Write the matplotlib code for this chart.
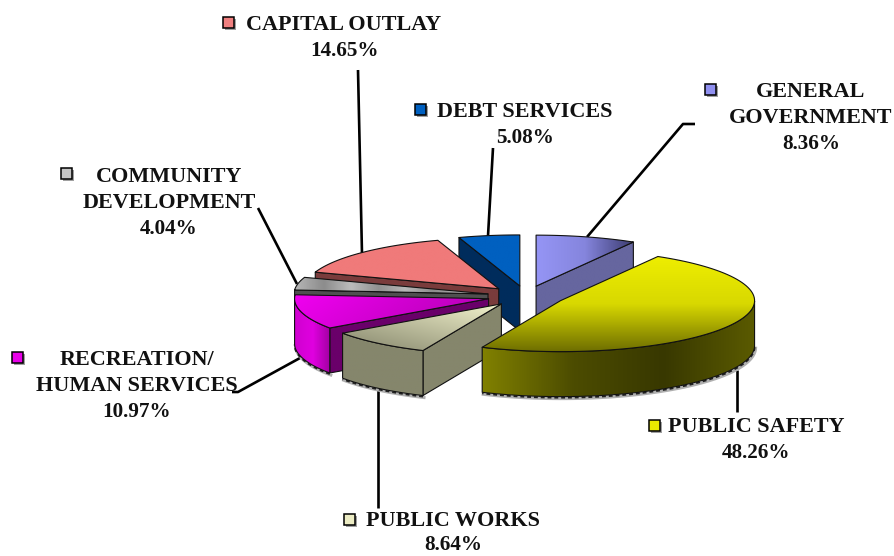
import numpy as np
import matplotlib
matplotlib.use("Agg")
import matplotlib.pyplot as plt
from matplotlib.patches import Polygon, Rectangle
from matplotlib.colors import LinearSegmentedColormap

# data, clockwise from 12 o'clock
categories = ["GENERAL\nGOVERNMENT", "PUBLIC SAFETY", "PUBLIC WORKS", "RECREATION/\nHUMAN SERVICES",
              "COMMUNITY\nDEVELOPMENT", "CAPITAL OUTLAY", "DEBT SERVICES"]
percents = [8.36, 48.26, 8.64, 10.97, 4.04, 14.65, 5.08]

key_colors = ["#9090f0", "#e8e800", "#ececc4", "#e800e8", "#c4c4c4", "#f08080", "#0060c0"]
# top gradient: colours, direction in degrees (0 = left to right, 90 = top to bottom)
top_styles = [(["#9595f5", "#8585dd", "#3c3c70"], 0),
              (["#eeee00", "#d8d800", "#6e6e00"], 90),
              (["#85866c", "#f2f2cc"], -50),
              (["#f000f0", "#b000b0"], 15),
              (["#b4b4b4", "#8c8c8c", "#bcbcbc", "#909090", "#b8b8b8", "#8c8c8c", "#b0b0b0", "#8c8c8c"], 0),
              (["#f07a7a", "#f07a7a"], 0),
              (["#0060c0", "#0060c0"], 0)]
side_colors = [["#66669f"], ["#808000", "#4c4c00", "#383800", "#5a5a00"], ["#85866c"],
               ["#d000d0", "#e000e0", "#a000a0"], ["#707070"], ["#7a3c3c"], ["#002c5c"]]
cut_colors = ["#66669f", "#565600", "#85866c", "#6a006a", "#505050", "#7a3c3c", "#002c5c"]
draw_order = [6, 0, 5, 4, 3, 2, 1]

# layout in pixels
W, H = 894, 556
CX, CY = 526, 296
RX, RY = 194, 51
DEPTH = 45
EXPLODE = 0.2

# label text position per category (x centre, y of first line, line gap), key position
label_x = [811, 756, 453, 137, 169, 344, 525]
label_y = [92, 427, 521, 360, 177, 25, 112]
label_gap = [26, 26, 24, 26, 26, 26, 26]
key_xy = [(711, 90), (655, 426), (350, 520), (18, 358), (67, 174), (229, 23), (421, 110)]
leaders = [[(695, 124), (683, 124), (587, 237)],
           [(737, 370), (737, 412)],
           [(378, 390), (378, 508)],
           [(232, 392), (238, 392), (300, 358)],
           [(258, 208), (297, 284)],
           [(358, 70), (362, 254)],
           [(493, 148), (488, 236)]]

plt.rcParams["font.family"] = ["Liberation Serif", "DejaVu Serif"]
fig = plt.figure(figsize=(W / 100, H / 100), dpi=100)
ax = fig.add_axes([0, 0, 1, 1])
ax.axis("off")

z = [1]


def gradient_fill(pts, colors, angle=0):
    pts = np.asarray(pts)
    x0, y0 = pts.min(axis=0)
    x1, y1 = pts.max(axis=0)
    if len(colors) == 1:
        colors = [colors[0], colors[0]]
    cmap = LinearSegmentedColormap.from_list("g", colors)
    gx, gy = np.meshgrid(np.linspace(0, 1, 80), np.linspace(0, 1, 80))
    a = np.radians(angle)
    u = gx * np.cos(a) + gy * np.sin(a)
    u = (u - u.min()) / (u.max() - u.min())
    im = ax.imshow(u, cmap=cmap, extent=[x0, x1, y1, y0], aspect="auto", zorder=z[0], interpolation="bilinear")
    patch = Polygon(pts, closed=True, transform=ax.transData)
    im.set_clip_path(patch)
    ax.add_patch(Polygon(pts, closed=True, fill=False, ec="#111111", lw=0.8, zorder=z[0] + 0.5, joinstyle="round"))
    z[0] += 1


def arc(ox, oy, t):
    r = np.radians(t)
    return np.column_stack([ox + RX * np.cos(r), oy - RY * np.sin(r)])


def faces_viewer(apex, edge, mid_pt):
    # a cut face shows when the slice top lies above its edge on screen
    d = edge - apex
    if abs(d[0]) < 1:
        return False
    m = mid_pt - apex
    return m[1] < d[1] / d[0] * m[0]


start = 90.0
slices = []
for p in percents:
    sweep = 360 * p / 100
    slices.append((start, start - sweep))
    start -= sweep

for i in draw_order:
    t0, t1 = slices[i]
    mid = np.radians((t0 + t1) / 2)
    ox = CX + EXPLODE * RX * np.cos(mid)
    oy = CY - EXPLODE * RY * np.sin(mid)
    t = np.linspace(t0, t1, 90)
    rim = arc(ox, oy, t)
    apex = np.array([ox, oy])
    drop = np.array([0, DEPTH])

    # cut faces
    for edge in (rim[0], rim[-1]):
        if faces_viewer(apex, edge, rim[45]):
            face = [apex, edge, edge + drop, apex + drop]
            gradient_fill(face, [cut_colors[i]])

    # outer wall, only the part facing us
    front = np.sin(np.radians(t)) <= 0
    if front.sum() > 1:
        f = rim[front]
        wall = np.vstack([f, (f + drop)[::-1]])
        # soft shadow and rough lower edge
        ax.plot(f[:, 0] + 1, f[:, 1] + DEPTH + 2, color="#b0b0b0", lw=2.2, zorder=z[0])
        ax.plot(f[:, 0], f[:, 1] + DEPTH + 1, color="#222222", lw=1.4, ls=(0, (2, 1.5)), zorder=z[0])
        z[0] += 1
        gradient_fill(wall, side_colors[i])

    # top
    top = np.vstack([apex, rim])
    gradient_fill(top, top_styles[i][0], top_styles[i][1])

# leader lines
for pts in leaders:
    xs, ys = zip(*pts)
    ax.plot(xs, ys, color="black", lw=1.9, zorder=0.5, solid_capstyle="butt")

# labels
for i, name in enumerate(categories):
    lines = name.split("\n")
    for j, line in enumerate(lines):
        ax.text(label_x[i], label_y[i] + j * label_gap[i], line, ha="center", va="center",
                fontsize=15.9, fontweight="bold", color="#111111", zorder=200)
    ax.text(label_x[i], label_y[i] + len(lines) * label_gap[i], f"{percents[i]:.2f}%", ha="center", va="center",
            fontsize=15.2, fontweight="bold", color="#111111", zorder=200)
    kx, ky = key_xy[i]
    ax.add_patch(Rectangle((kx - 4, ky - 4), 11, 11, fc="#a0a0a0", ec="none", zorder=200))
    ax.add_patch(Rectangle((kx - 6, ky - 6), 11, 11, fc=key_colors[i], ec="black", lw=1.1, zorder=201))

ax.set_xlim(0, W)
ax.set_ylim(H, 0)
fig.savefig("out.png", dpi=100)
